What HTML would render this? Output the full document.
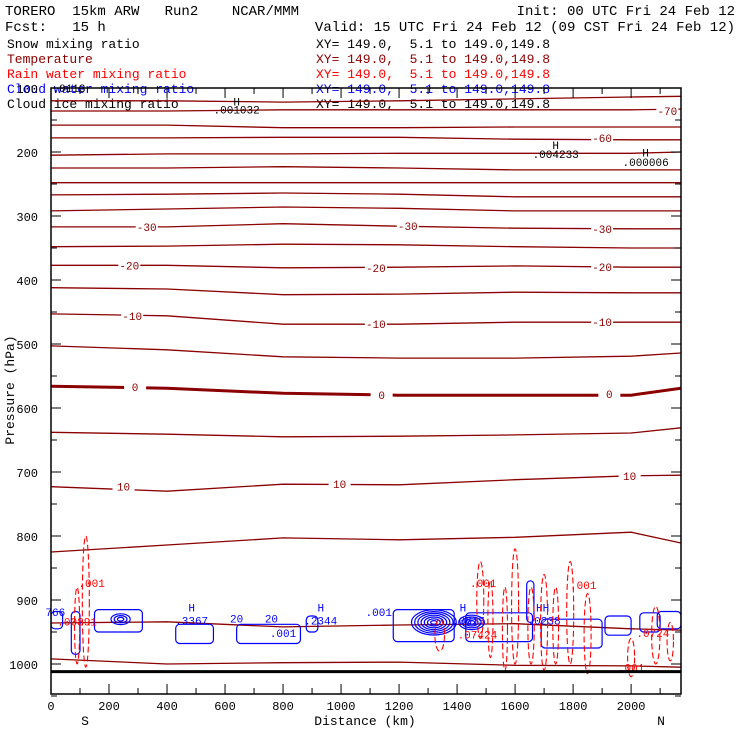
<!DOCTYPE html>
<html><head><meta charset="utf-8">
<style>
body{margin:0;background:#fff;}
svg{display:block;font-family:"Liberation Mono",monospace;}
text{white-space:pre;}
</style></head>
<body>
<svg id="chart" width="740" height="740" viewBox="0 0 740 740" xml:space="preserve">
<g font-size="14" fill="#000">
<text x="5" y="15">TORERO  15km ARW   Run2    NCAR/MMM</text>
<text x="735" y="15" text-anchor="end">Init: 00 UTC Fri 24 Feb 12</text>
<text x="5" y="31">Fcst:   15 h</text>
<text x="735" y="31" text-anchor="end">Valid: 15 UTC Fri 24 Feb 12 (09 CST Fri 24 Feb 12)</text>
</g>
<g font-size="13">
<text x="7" y="48" fill="#000">Snow mixing ratio</text>
<text x="316" y="48" fill="#000">XY= 149.0,  5.1 to 149.0,149.8</text>
<text x="7" y="63" fill="#8b0000">Temperature</text>
<text x="316" y="63" fill="#8b0000">XY= 149.0,  5.1 to 149.0,149.8</text>
<text x="7" y="78" fill="#ff0000">Rain water mixing ratio</text>
<text x="316" y="78" fill="#ff0000">XY= 149.0,  5.1 to 149.0,149.8</text>
<text x="7" y="93" fill="#0000ff">Cloud water mixing ratio</text>
<text x="316" y="93" fill="#0000ff">XY= 149.0,  5.1 to 149.0,149.8</text>
<text x="7" y="108" fill="#000">Cloud ice mixing ratio</text>
<text x="316" y="108" fill="#000">XY= 149.0,  5.1 to 149.0,149.8</text>
</g>
<g id="plot"></g>
<text x="365" y="725" text-anchor="middle" font-size="13">Distance (km)</text>
<text x="85" y="725" text-anchor="middle" font-size="13">S</text>
<text x="661" y="725" text-anchor="middle" font-size="13">N</text>
<text transform="translate(14,390) rotate(-90)" text-anchor="middle" font-size="13">Pressure (hPa)</text>
</svg>
<script>
const dists = [0, 400, 800, 1200, 1600, 2000, 2172];
const isoTemps = [-75,-70,-65,-60,-55,-50,-45,-40,-35,-30,-25,-20,-15,-10,-5,0,5,10,15,20,25];
const isoPressures = [
 [120,120,122,120,117,114,113],
 [136,136,134,134,134,134,133],
 [158,158,162,162,161,161,161],
 [178,178,177,177,180,181,181],
 [205,203,203,202,202,202,200],
 [225,225,223,225,228,228,228],
 [248,248,248,248,248,248,248],
 [267,266,264,266,270,270,270],
 [292,289,286,288,292,292,292],
 [317,317,312,316,319,320,320],
 [348,347,344,345,348,350,350],
 [377,377,381,380,378,380,380],
 [412,414,423,422,419,420,420],
 [453,456,469,469,466,466,466],
 [503,509,520,522,522,519,514],
 [566,569,577,580,580,580,569],
 [638,641,645,644,642,639,631],
 [723,730,719,720,712,706,705],
 [825,814,803,806,802,794,811],
 [936,934,942,939,937,945,947],
 [992,1000,998,997,1002,1003,1005]
];
const tempLabels = [
 [-70,2125,136],[-60,1900,178],[-30,330,317],[-30,1230,316],[-30,1900,320],
 [-20,270,377],[-20,1120,381],[-20,1900,380],[-10,280,456],[-10,1120,469],[-10,1900,466],
 [0,290,567],[0,1140,580],[0,1925,578],[10,250,723],[10,995,719],[10,1995,706]
];
const xTicks = [0,200,400,600,800,1000,1200,1400,1600,1800,2000];
const yTicks = [100,200,300,400,500,600,700,800,900,1000];
const groundP = 1012;
const cloudBoxes = [
 [0,40,918,945],[70,100,918,985],[150,315,915,950],[430,560,938,968],[640,860,938,968],
 [880,920,925,950],[1180,1390,915,965],[1430,1660,920,965],[1640,1665,870,935],
 [1690,1900,930,975],[1910,2000,925,955],[2030,2100,920,950],[2090,2172,918,945]
];
const cloudRings = [[240,930,3],[1320,935,7],[1450,935,4]];
const rainLoops = [
 [120,22,800,1005],[90,16,880,1000],[1340,30,930,980],[1480,22,840,960],[1515,16,870,990],
 [1565,16,880,1010],[1600,22,820,1000],[1655,20,880,1000],[1700,22,860,1010],[1740,18,880,1000],
 [1790,22,840,1000],[1850,22,890,1015],[2000,22,960,1020],[2085,26,910,1000],[2135,20,935,995]
];
const rainLabels = [[".001",140,880],[".001",1490,880],[".001",1835,883],[".07424",1470,960],[".0724",2075,958],[".001",2000,1012],[".00891",90,940]];
const cloudLabels = [["H",485,918],[".3367",485,938],["H",930,918],[".2344",930,938],[".001",1130,925],["H",1420,918],[".0615",1440,938],["HH",1695,918],[".0238",1700,938],["766",15,925],[".001",800,958],["20",640,935],["20",760,935]];
const iceLabels = [["H",640,127],[".001032",640,140],["H",1740,195],[".004233",1740,209],["H",2050,207],[".000006",2050,222],[".0113",5,106]];

const L=51,R=681,T=88,B=694;
const xs = d => L + d*(R-L)/2172;
const ys = p => T + (p-100)*0.64;
const NS='http://www.w3.org/2000/svg';
const plot=document.getElementById('plot');
function mk(tag,attrs,parent){const e=document.createElementNS(NS,tag);for(const k in attrs)e.setAttribute(k,attrs[k]);(parent||plot).appendChild(e);return e;}
function tx(str,x,y,fill,size,anchor,parent){const t=mk('text',{x:x,y:y,fill:fill,'font-size':size,'text-anchor':anchor||'middle'},parent);t.textContent=str;return t;}

const clip=mk('clipPath',{id:'pc'});mk('rect',{x:L,y:T,width:R-L,height:B-T},clip);
const tg=mk('g',{'clip-path':'url(#pc)'});


isoTemps.forEach((t,i)=>{
  const pts=dists.map((d,j)=>xs(d).toFixed(1)+','+ys(isoPressures[i][j]).toFixed(1)).join(' ');
  const pl=mk('polyline',{points:pts,fill:'none',stroke:'#8b0000','stroke-width':t===0?3:1.3},tg);
  
  
});
tempLabels.forEach(l=>{
  mk('rect',{x:xs(l[1])-11,y:ys(l[2])-6,width:22,height:12,fill:'#fff'},tg);
  const t=tx(String(l[0]),xs(l[1]),ys(l[2])+4,'#8b0000',11,'middle',tg);
  
  
});
const cg=mk('g',{'clip-path':'url(#pc)',fill:'none',stroke:'#0000ff','stroke-width':1.2});


cloudBoxes.forEach(b=>{
  const r=mk('rect',{x:xs(b[0]),y:ys(b[2]),width:xs(b[1])-xs(b[0]),height:ys(b[3])-ys(b[2]),rx:4},cg);
  
  
});
cloudRings.forEach(c=>{for(let k=1;k<=c[2];k++){
  const e=mk('ellipse',{cx:xs(c[0]),cy:ys(c[1]),rx:k*3.2,ry:k*1.8},cg);
  
  
}});
cloudLabels.forEach(l=>{const t=tx(l[0],xs(l[1]),ys(l[2]),'#0000ff',11,'middle',plot);
  
  });
const rg=mk('g',{'clip-path':'url(#pc)',fill:'none',stroke:'#ff0000','stroke-width':1.1,'stroke-dasharray':'6,3'});


rainLoops.forEach(r=>{
  const e=mk('ellipse',{cx:xs(r[0]),cy:(ys(r[2])+ys(r[3]))/2,rx:(xs(r[1])-xs(0))*0.55,ry:(ys(r[3])-ys(r[2]))/2},rg);
  
  
});
rainLabels.forEach(l=>{const t=tx(l[0],xs(l[1]),ys(l[2]),'#ff0000',11,'middle',plot);
  
  });
iceLabels.forEach(l=>{const t=tx(l[0],xs(l[1]),ys(l[2]),'#000',11,l[1]<20?'start':'middle',plot);
  
  });
const gl=mk('line',{x1:L,x2:R,y1:ys(groundP),y2:ys(groundP),stroke:'#000','stroke-width':3});


const fr=mk('rect',{x:L,y:T,width:R-L,height:B-T,fill:'none',stroke:'#000','stroke-width':1.5});


for(let d=0;d<=2172;d+=100){const x=xs(d),big=d%200===0;
  mk('line',{x1:x,x2:x,y1:B,y2:B-(big?10:6),stroke:'#000'});
  mk('line',{x1:x,x2:x,y1:T,y2:T+(big?10:6),stroke:'#000'});}
for(let p=100;p<=1050;p+=50){const y=ys(p),big=p%100===0;
  mk('line',{x1:L,x2:L+(big?10:6),y1:y,y2:y,stroke:'#000'});
  mk('line',{x1:R,x2:R-(big?10:6),y1:y,y2:y,stroke:'#000'});}
xTicks.forEach(d=>{const t=tx(String(d),xs(d),710,'#000',12,'middle');
  
  });
yTicks.forEach(p=>{const t=tx(String(p),38,ys(p)+5,'#000',12,'end');
  
  });
</script>
</body></html>
